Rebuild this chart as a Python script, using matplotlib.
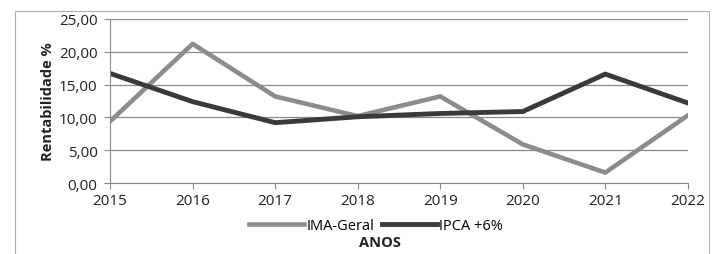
import matplotlib
matplotlib.use("Agg")
import matplotlib.pyplot as plt
from matplotlib.ticker import FuncFormatter, MultipleLocator
from matplotlib.patches import Rectangle

# dados
anos = ["2015", "2016", "2017", "2018", "2019", "2020", "2021", "2022"]
ima_geral = [9.4, 21.2, 13.2, 10.2, 13.2, 5.9, 1.6, 10.3]
ipca_6 = [16.7, 12.4, 9.2, 10.1, 10.6, 10.9, 16.6, 12.2]

plt.rcParams["font.family"] = ["Open Sans", "DejaVu Sans"]

fig = plt.figure(figsize=(7.15, 2.55), dpi=100)
ax = fig.add_axes([0.154, 0.278, 0.808, 0.644])

# moldura do gráfico
fig.patches.append(Rectangle((0.021, -0.1), 0.97, 1.053, transform=fig.transFigure,
                             fill=False, edgecolor="#b0b0b0", linewidth=0.8))

x = range(len(anos))
ax.plot(x, ima_geral, color="#8c8c8c", linewidth=3.3, label="IMA-Geral")
ax.plot(x, ipca_6, color="#3a3a3a", linewidth=3.5, label="IPCA +6%")

ax.set_xlim(0, len(anos) - 1)
ax.set_ylim(0, 25)
ax.set_xticks(list(x))
ax.set_xticklabels(anos)
ax.yaxis.set_major_locator(MultipleLocator(5))
ax.yaxis.set_major_formatter(FuncFormatter(lambda v, p: f"{v:.2f}".replace(".", ",")))
ax.grid(axis="y", color="#8a8a8a", linewidth=0.9)
ax.set_axisbelow(True)

for side in ["top", "right"]:
    ax.spines[side].set_visible(False)
ax.spines["left"].set_color("#8a8a8a")
ax.spines["bottom"].set_color("#8a8a8a")
ax.tick_params(axis="both", colors="#8a8a8a", labelcolor="#222222", labelsize=11, length=4)
ax.tick_params(axis="y", pad=5)
ax.tick_params(axis="x", pad=3)

ax.set_ylabel("Rentabilidade %", fontsize=10.5, fontweight="bold", color="#222222", labelpad=3)
fig.text(0.531, 0.047, "ANOS", fontsize=10.5, fontweight="bold", color="#222222",
         ha="center", va="center")

ax.legend(loc="upper center", bbox_to_anchor=(0.46, -0.16), ncol=2, frameon=False,
          fontsize=10.5, handlelength=3.8, columnspacing=0.5, handletextpad=0.15,
          borderpad=0.1)

fig.savefig("out.png", dpi=100)
